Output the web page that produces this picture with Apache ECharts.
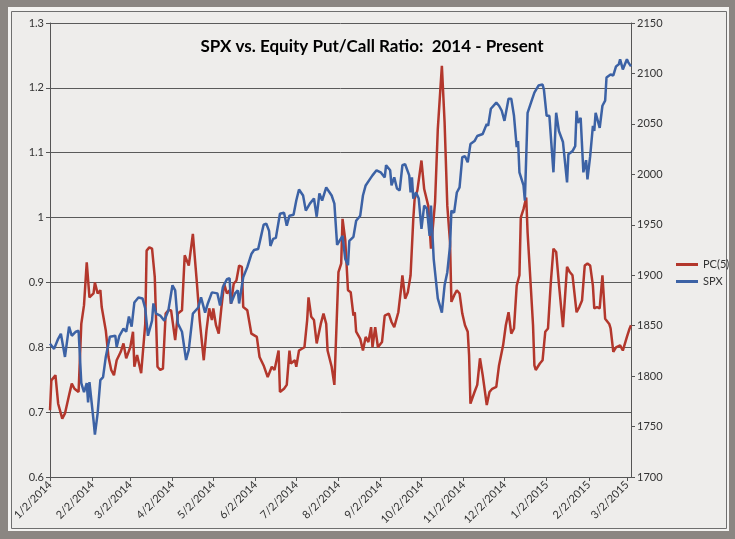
<!DOCTYPE html>
<html>
<head>
<meta charset="utf-8">
<script src="https://cdn.jsdelivr.net/npm/echarts@6/dist/echarts.min.js"></script>
<style>
  html, body { margin: 0; padding: 0; }
  #chart { width: 735px; height: 539px; }
</style>
</head>
<body>
<div id="chart"></div>
<script>
// tick labels on the date axis (2nd of each month)
const tickLabels = ['1/2/2014', '2/2/2014', '3/2/2014', '4/2/2014', '5/2/2014', '6/2/2014', '7/2/2014',
  '8/2/2014', '9/2/2014', '10/2/2014', '11/2/2014', '12/2/2014', '1/2/2015', '2/2/2015', '3/2/2015']

// SPX (right axis)
const spxDates = ['2014-01-02','2014-01-05','2014-01-08','2014-01-10','2014-01-13','2014-01-16','2014-01-18','2014-01-21','2014-01-23','2014-01-25',
  '2014-01-27','2014-01-29','2014-01-30','2014-01-31','2014-02-03','2014-02-04','2014-02-06','2014-02-08','2014-02-10','2014-02-12',
  '2014-02-15','2014-02-19','2014-02-20','2014-02-22','2014-02-25','2014-02-27','2014-03-01','2014-03-03','2014-03-05','2014-03-08',
  '2014-03-11','2014-03-13','2014-03-15','2014-03-18','2014-03-19','2014-03-21','2014-03-24','2014-03-27','2014-03-30','2014-04-02',
  '2014-04-04','2014-04-06','2014-04-09','2014-04-12','2014-04-14','2014-04-17','2014-04-21','2014-04-23','2014-04-26','2014-04-28',
  '2014-05-01','2014-05-05','2014-05-07','2014-05-09','2014-05-12','2014-05-14','2014-05-15','2014-05-18','2014-05-20','2014-05-21',
  '2014-05-24','2014-05-27','2014-05-30','2014-06-01','2014-06-04','2014-06-06','2014-06-08','2014-06-10','2014-06-12','2014-06-13',
  '2014-06-15','2014-06-17','2014-06-20','2014-06-23','2014-06-25','2014-06-27','2014-06-30','2014-07-02','2014-07-04','2014-07-07',
  '2014-07-09','2014-07-12','2014-07-15','2014-07-17','2014-07-19','2014-07-21','2014-07-24','2014-07-25','2014-07-28','2014-07-30',
  '2014-08-01','2014-08-05','2014-08-07','2014-08-09','2014-08-10','2014-08-13','2014-08-15','2014-08-18','2014-08-20','2014-08-22',
  '2014-08-25','2014-08-27','2014-08-30','2014-09-02','2014-09-05','2014-09-06','2014-09-09','2014-09-10','2014-09-12','2014-09-14',
  '2014-09-16','2014-09-18','2014-09-20','2014-09-23','2014-09-24','2014-09-25','2014-09-26','2014-09-28','2014-09-30','2014-10-02',
  '2014-10-04','2014-10-06','2014-10-08','2014-10-09','2014-10-11','2014-10-14','2014-10-17','2014-10-19','2014-10-21','2014-10-23',
  '2014-10-24','2014-10-26','2014-10-28','2014-10-30','2014-11-01','2014-11-03','2014-11-05','2014-11-07','2014-11-10','2014-11-12',
  '2014-11-16','2014-11-19','2014-11-20','2014-11-22','2014-11-26','2014-11-28','2014-11-30','2014-12-02','2014-12-05','2014-12-07',
  '2014-12-09','2014-12-11','2014-12-12','2014-12-13','2014-12-16','2014-12-17','2014-12-19','2014-12-22','2014-12-24','2014-12-27',
  '2014-12-30','2014-12-31','2015-01-02','2015-01-04','2015-01-07','2015-01-09','2015-01-11','2015-01-14','2015-01-17','2015-01-18',
  '2015-01-21','2015-01-23','2015-01-24','2015-01-25','2015-01-27','2015-01-29','2015-01-31','2015-02-01','2015-02-03','2015-02-05',
  '2015-02-06','2015-02-07','2015-02-10','2015-02-12','2015-02-14','2015-02-15','2015-02-18','2015-02-20','2015-02-22','2015-02-24',
  '2015-02-25','2015-02-27','2015-03-02','2015-03-03','2015-03-05']
const spxValues = [1832,1827,1837,1842,1819,1849,1840,1844,1845,1793,
  1784,1793,1774,1794,1756,1742,1763,1796,1799,1819,
  1839,1840,1829,1840,1847,1844,1859,1849,1873,1878,
  1877,1867,1840,1855,1872,1862,1860,1855,1865,1890,
  1885,1852,1844,1816,1826,1862,1868,1878,1863,1872,
  1883,1882,1870,1888,1896,1897,1872,1882,1885,1872,
  1898,1908,1921,1925,1926,1938,1950,1951,1944,1929,
  1936,1937,1961,1962,1949,1959,1960,1974,1985,1979,
  1964,1971,1976,1958,1981,1974,1987,1988,1979,1971,
  1930,1939,1916,1910,1934,1938,1954,1959,1979,1989,
  1995,1999,2004,2002,1997,2009,2004,1989,1997,1986,
  1984,2009,2010,1999,1982,1997,1976,1982,1976,1946,
  1969,1966,1939,1969,1916,1877,1863,1890,1903,1929,
  1964,1962,1982,1987,2017,2018,2012,2030,2033,2038,
  2040,2050,2048,2065,2071,2068,2063,2053,2075,2075,
  2058,2027,2033,2002,1989,1974,2061,2073,2081,2088,
  2089,2084,2058,2058,2002,2061,2043,2032,1992,2020,
  2023,2028,2063,2051,2056,2002,2014,1995,2018,2048,
  2043,2061,2046,2068,2073,2096,2099,2098,2107,2109,
  2114,2104,2114,2111,2107]

// PC(5), 5-day equity put/call ratio (left axis)
const pcDates = ['2014-01-02','2014-01-03','2014-01-06','2014-01-08','2014-01-11','2014-01-13','2014-01-16','2014-01-18','2014-01-20','2014-01-23',
  '2014-01-25','2014-01-27','2014-01-29','2014-01-31','2014-02-03','2014-02-04','2014-02-06','2014-02-08','2014-02-09','2014-02-12',
  '2014-02-14','2014-02-16','2014-02-18','2014-02-20','2014-02-23','2014-02-25','2014-02-27','2014-03-02','2014-03-04','2014-03-05',
  '2014-03-07','2014-03-10','2014-03-13','2014-03-14','2014-03-16','2014-03-18','2014-03-20','2014-03-22','2014-03-24','2014-03-26',
  '2014-03-28','2014-03-30','2014-04-01','2014-04-04','2014-04-06','2014-04-09','2014-04-11','2014-04-14','2014-04-17','2014-04-20',
  '2014-04-22','2014-04-25','2014-04-27','2014-04-29','2014-05-01','2014-05-02','2014-05-04','2014-05-06','2014-05-08','2014-05-10',
  '2014-05-12','2014-05-14','2014-05-15','2014-05-17','2014-05-19','2014-05-21','2014-05-23','2014-05-24','2014-05-27','2014-05-30',
  '2014-06-03','2014-06-05','2014-06-08','2014-06-11','2014-06-14','2014-06-16','2014-06-19','2014-06-20','2014-06-23','2014-06-25',
  '2014-06-27','2014-06-28','2014-07-01','2014-07-02','2014-07-04','2014-07-08','2014-07-10','2014-07-11','2014-07-13','2014-07-15',
  '2014-07-17','2014-07-20','2014-07-22','2014-07-24','2014-07-25','2014-07-28','2014-07-30','2014-08-02','2014-08-04','2014-08-05',
  '2014-08-07','2014-08-09','2014-08-11','2014-08-13','2014-08-14','2014-08-15','2014-08-18','2014-08-20','2014-08-22','2014-08-24',
  '2014-08-26','2014-08-27','2014-08-29','2014-08-31','2014-09-03','2014-09-05','2014-09-08','2014-09-10','2014-09-12','2014-09-15',
  '2014-09-17','2014-09-18','2014-09-20','2014-09-22','2014-09-24','2014-09-26','2014-09-27','2014-09-29','2014-10-02','2014-10-04',
  '2014-10-07','2014-10-09','2014-10-12','2014-10-14','2014-10-17','2014-10-19','2014-10-21','2014-10-23','2014-10-24','2014-10-26',
  '2014-10-28','2014-10-30','2014-11-01','2014-11-03','2014-11-05','2014-11-06','2014-11-07','2014-11-10','2014-11-12','2014-11-14',
  '2014-11-16','2014-11-19','2014-11-21','2014-11-23','2014-11-26','2014-11-28','2014-12-01','2014-12-03','2014-12-05','2014-12-07',
  '2014-12-09','2014-12-11','2014-12-13','2014-12-14','2014-12-16','2014-12-18','2014-12-19','2014-12-21','2014-12-23','2014-12-24',
  '2014-12-25','2014-12-28','2014-12-30','2015-01-01','2015-01-03','2015-01-05','2015-01-07','2015-01-09','2015-01-11','2015-01-14',
  '2015-01-17','2015-01-19','2015-01-21','2015-01-24','2015-01-26','2015-01-28','2015-01-30','2015-02-01','2015-02-03','2015-02-05',
  '2015-02-06','2015-02-08','2015-02-10','2015-02-12','2015-02-14','2015-02-17','2015-02-18','2015-02-20','2015-02-22','2015-02-25',
  '2015-02-27','2015-03-02','2015-03-04','2015-03-05']
const pcValues = [0.703,0.749,0.757,0.713,0.690,0.698,0.726,0.744,0.736,0.731,
  0.836,0.865,0.931,0.877,0.883,0.900,0.883,0.888,0.862,0.826,
  0.785,0.765,0.757,0.780,0.793,0.806,0.783,0.800,0.824,0.770,
  0.788,0.760,0.836,0.949,0.954,0.952,0.908,0.770,0.765,0.767,
  0.852,0.857,0.857,0.811,0.852,0.857,0.942,0.926,0.975,0.898,
  0.842,0.780,0.826,0.860,0.842,0.860,0.834,0.821,0.862,0.898,
  0.883,0.888,0.867,0.898,0.903,0.926,0.924,0.862,0.857,0.821,
  0.816,0.785,0.772,0.754,0.770,0.765,0.795,0.731,0.736,0.742,
  0.795,0.775,0.780,0.770,0.795,0.800,0.842,0.877,0.847,0.842,
  0.806,0.836,0.852,0.836,0.795,0.770,0.742,0.916,0.929,0.998,
  0.965,0.888,0.885,0.849,0.854,0.824,0.813,0.795,0.816,0.808,
  0.831,0.800,0.831,0.800,0.808,0.849,0.852,0.839,0.831,0.854,
  0.890,0.911,0.875,0.885,0.911,0.998,1.029,1.042,1.088,1.044,
  1.018,0.952,1.024,1.136,1.234,1.147,1.018,0.962,0.870,0.880,
  0.888,0.883,0.852,0.834,0.824,0.788,0.713,0.731,0.742,0.783,
  0.757,0.711,0.731,0.736,0.739,0.772,0.803,0.834,0.854,0.821,
  0.829,0.895,0.911,1.000,1.013,1.031,0.977,0.906,0.834,0.772,
  0.765,0.775,0.780,0.824,0.829,0.898,0.952,0.947,0.898,0.831,
  0.924,0.916,0.911,0.854,0.862,0.872,0.926,0.929,0.926,0.895,
  0.860,0.862,0.860,0.911,0.844,0.836,0.829,0.793,0.800,0.803,
  0.795,0.816,0.829,0.834]

// dates become millisecond timestamps on a plain value axis
function isoTime(s) {
  const p = s.split('-')
  return Date.UTC(+p[0], +p[1] - 1, +p[2])
}
function labelTime(s) {
  const p = s.split('/')
  return Date.UTC(+p[2], +p[0] - 1, +p[1])
}
const tickTimes = tickLabels.map(labelTime)

const chart = echarts.init(document.getElementById('chart'))
const labelFont = { fontFamily: 'Lato', fontSize: 11, color: '#333' }

chart.setOption({
  animation: false,
  backgroundColor: '#8b8682',
  textStyle: { fontFamily: 'Lato' },
  graphic: [
    { type: 'rect', z: -10, shape: { x: 8, y: 7, width: 721, height: 524 }, style: { fill: '#f4f3f1' } },
    { type: 'rect', z: -9, shape: { x: 11.5, y: 11.5, width: 715, height: 517 },
      style: { fill: '#eeedeb', stroke: '#6f6f6f', lineWidth: 1 } }
  ],
  title: {
    text: 'SPX vs. Equity Put/Call Ratio:  2014 - Present',
    left: 367,
    textAlign: 'center',
    top: 33,
    textStyle: { fontFamily: 'Lato', fontWeight: 'bold', fontSize: 17, color: '#000' }
  },
  legend: {
    orient: 'vertical',
    left: 671,
    top: 254,
    icon: 'rect',
    itemWidth: 22,
    itemHeight: 3,
    itemGap: 6,
    textStyle: { fontFamily: 'Lato', fontSize: 11, color: '#333' },
    data: ['PC(5)', 'SPX']
  },
  grid: { left: 50, right: 104, top: 23, bottom: 62 },
  xAxis: {
    type: 'value',
    min: isoTime('2014-01-02'),
    max: isoTime('2015-03-05'),
    axisLine: { lineStyle: { color: '#555', width: 1 } },
    axisTick: { show: true, length: 4, customValues: tickTimes, lineStyle: { color: '#555' } },
    axisLabel: Object.assign({
      customValues: tickTimes,
      rotate: 45,
      margin: 6,
      formatter: function (v) {
        const d = new Date(v)
        return (d.getUTCMonth() + 1) + '/' + d.getUTCDate() + '/' + d.getUTCFullYear()
      }
    }, labelFont),
    splitLine: { show: false }
  },
  yAxis: [
    {
      type: 'value',
      min: 0.6,
      max: 1.3,
      interval: 0.1,
      axisLine: { show: true, lineStyle: { color: '#555' } },
      axisTick: { show: true, length: 4, lineStyle: { color: '#555' } },
      axisLabel: Object.assign({ margin: 6 }, labelFont),
      splitLine: { show: true, lineStyle: { color: '#5a5a5a', width: 1 } }
    },
    {
      type: 'value',
      min: 1700,
      max: 2150,
      interval: 50,
      position: 'right',
      axisLine: { show: true, lineStyle: { color: '#555' } },
      axisTick: { show: true, length: 4, lineStyle: { color: '#555' } },
      axisLabel: Object.assign({ margin: 6, formatter: v => String(v) }, labelFont),
      splitLine: { show: false }
    }
  ],
  series: [
    {
      name: 'PC(5)',
      type: 'line',
      yAxisIndex: 0,
      showSymbol: false,
      color: '#b3372c',
      lineStyle: { width: 2.5 },
      data: pcDates.map((d, i) => [isoTime(d), pcValues[i]])
    },
    {
      name: 'SPX',
      type: 'line',
      yAxisIndex: 1,
      showSymbol: false,
      color: '#3c62a5',
      lineStyle: { width: 2.5 },
      data: spxDates.map((d, i) => [isoTime(d), spxValues[i]])
    }
  ]
})
</script>
</body>
</html>
